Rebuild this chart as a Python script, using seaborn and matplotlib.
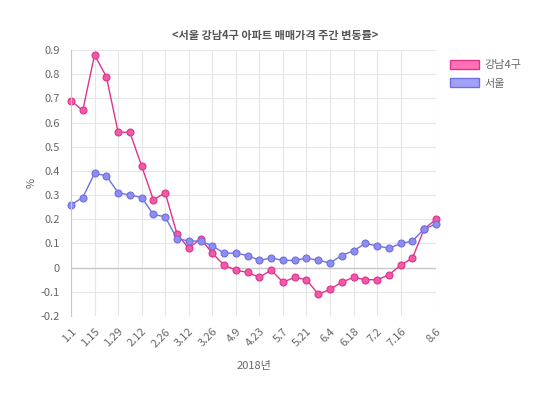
import pandas as pd
import matplotlib.pyplot as plt
import seaborn as sns
import numpy as np
from matplotlib.patches import Patch

weeks = ['1.1', '1.8', '1.15', '1.22', '1.29', '2.5', '2.12', '2.19', '2.26', '3.5',
         '3.12', '3.19', '3.26', '4.2', '4.9', '4.16', '4.23', '4.30', '5.7', '5.14',
         '5.21', '5.28', '6.4', '6.11', '6.18', '6.25', '7.2', '7.9', '7.16', '7.23',
         '7.30', '8.6']
gangnam = [0.69, 0.65, 0.88, 0.79, 0.56, 0.56, 0.42, 0.28, 0.31, 0.14,
           0.08, 0.12, 0.06, 0.01, -0.01, -0.02, -0.04, -0.01, -0.06, -0.04,
           -0.05, -0.11, -0.09, -0.06, -0.04, -0.05, -0.05, -0.03, 0.01, 0.04,
           0.16, 0.20]
seoul = [0.26, 0.29, 0.39, 0.38, 0.31, 0.30, 0.29, 0.22, 0.21, 0.12,
         0.11, 0.11, 0.09, 0.06, 0.06, 0.05, 0.03, 0.04, 0.03, 0.03,
         0.04, 0.03, 0.02, 0.05, 0.07, 0.10, 0.09, 0.08, 0.10, 0.11,
         0.16, 0.18]
series = ['강남4구', '서울']
tick_labels = ['1.1', '1.15', '1.29', '2.12', '2.26', '3.12', '3.26', '4.9', '4.23',
               '5.7', '5.21', '6.4', '6.18', '7.2', '7.16', '8.6']

df = pd.DataFrame({'week': weeks * 2,
                   'idx': list(range(len(weeks))) * 2,
                   'value': gangnam + seoul,
                   'series': [series[0]] * len(weeks) + [series[1]] * len(weeks)})

sns.set_style('white')
plt.rcParams['font.family'] = ['Noto Sans CJK KR', 'DejaVu Sans']

line_cols = {'강남4구': '#e0338c', '서울': '#6f6fe0'}
fill_cols = {'강남4구': '#f05aa8', '서울': '#8e8ef0'}
legend_fill = {'강남4구': '#ff72b6', '서울': '#a2a2fb'}

fig = plt.figure(figsize=(5.5, 3.95), dpi=100)
ax = fig.add_axes([71/550, 1-316/395, 365/550, 266/395])

sns.lineplot(data=df, x='idx', y='value', hue='series', palette=line_cols,
             marker='o', markersize=5, linewidth=1, ax=ax, legend=False,
             markeredgewidth=0.8)
for ln, s in zip(ax.lines, series):
    ln.set_markerfacecolor(fill_cols[s])
    ln.set_markeredgecolor(line_cols[s])
    ln.set_clip_on(False)

tick_pos = [weeks.index(t) for t in tick_labels]
ax.set_xticks(tick_pos)
ax.set_xticklabels(tick_labels, rotation=45, ha='right', rotation_mode='anchor')
ax.set_xlim(0, len(weeks) - 1)
ax.set_ylim(-0.2, 0.9)
ax.set_yticks(np.arange(-0.2, 0.91, 0.1))
ax.set_yticklabels([f'{v:g}' for v in np.round(np.arange(-0.2, 0.91, 0.1), 1)])
ax.grid(True, color='#e6e6e6', linewidth=0.8)
ax.axhline(0, color='#c8c8c8', linewidth=1, zorder=1)
ax.tick_params(axis='both', colors='#d0d0d0', labelcolor='#666666', labelsize=8,
               length=4, width=0.8)
ax.tick_params(axis='y', length=0, pad=8)
for side in ['top', 'right', 'bottom']:
    ax.spines[side].set_visible(False)
ax.spines['left'].set_color('#c8c8c8')
ax.spines['left'].set_linewidth(0.8)

ax.set_xlabel('2018년', color='#666666', fontsize=8, labelpad=9)
ax.set_ylabel('%', color='#666666', fontsize=8, labelpad=3)
fig.text(0.5, 1-35/395, '<서울 강남4구 아파트 매매가격 주간 변동률>', ha='center', va='center',
         fontsize=8, fontweight='bold', color='#555555')

handles = [Patch(facecolor=legend_fill[s], edgecolor=line_cols[s], linewidth=1) for s in series]
fig.legend(handles, series, loc='upper left', bbox_to_anchor=(440/550, 1-50/395),
           frameon=False, fontsize=8, handlelength=2.6, handleheight=0.9,
           labelcolor='#666666', handletextpad=0.5, labelspacing=0.7)

plt.savefig('out.png', dpi=100)
